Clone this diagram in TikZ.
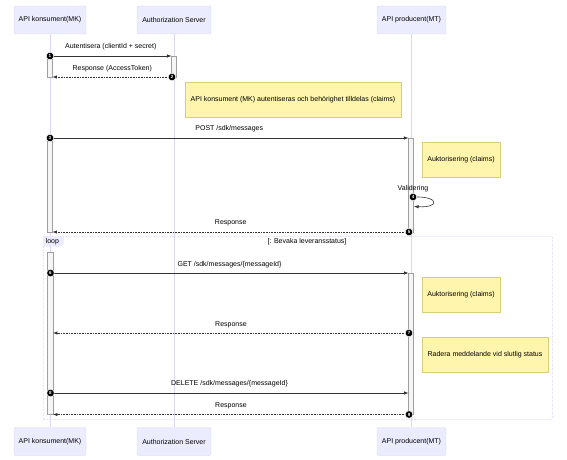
\documentclass[tikz,border=0pt]{standalone}
\usepackage{fontspec}
\setmainfont{Liberation Sans}
\usepackage{xcolor}
\usetikzlibrary{arrows}
\usetikzlibrary{calc}
\definecolor{actorfill}{HTML}{ECECFF}
\definecolor{actorline}{HTML}{DCD6F7}
\definecolor{notefill}{HTML}{FFF5AD}
\definecolor{noteline}{HTML}{D6CF7A}
\definecolor{msgline}{HTML}{333333}

\begin{document}
\begin{tikzpicture}[x=1pt, y=-1pt, font=\fontsize{7}{8}\selectfont,
	actor/.style={draw=actorline, fill=actorfill, rounded corners=1.5pt, minimum height=28pt, inner sep=0pt},
	note/.style={draw=noteline, fill=notefill, minimum height=35pt, inner sep=0pt},
	num/.style={circle, fill=black, draw=white, line width=.4pt, inner sep=0pt, minimum size=7.5pt, text=white, font=\fontsize{4.5}{5}\selectfont\bfseries},
	act/.style={draw=gray!75, fill=gray!8, line width=.6pt},
	msg/.style={->, >=latex, color=msgline, line width=.6pt},
	reply/.style={->, >=latex, color=msgline, line width=.5pt, dash pattern=on .8pt off .8pt}]
	\useasboundingbox (0,0) rectangle (567,460);
	% actors
	\node[actor, minimum width=72pt] (MKtop) at (50, 20) {API konsument(MK)};
	\node[actor, minimum width=74pt] (AStop) at (174, 20) {Authorization Server};
	\node[actor, minimum width=69pt] (MTtop) at (411.5, 20) {API producent(MT)};
	\node[actor, minimum width=72pt] (MKbot) at (50, 441.5) {API konsument(MK)};
	\node[actor, minimum width=74pt] (ASbot) at (174, 441.5) {Authorization Server};
	\node[actor, minimum width=69pt] (MTbot) at (411.5, 441.5) {API producent(MT)};
	\draw[actorline, line width=.8pt] (MKtop) -- (MKbot);
	\draw[actorline, line width=.8pt] (AStop) -- (ASbot);
	\draw[actorline, line width=.8pt] (MTtop) -- (MTbot);
	% loop frame
	\draw[actorline!70, line width=.5pt, dash pattern=on .8pt off .8pt] (43, 236) rectangle (552, 419);
	\fill[actorfill] (43, 236) -- (64, 236) -- (64, 243) -- (61, 246.5) -- (43, 246.5) -- cycle;
	\node[anchor=west, inner sep=0pt] (looplbl) at (45.5, 241.5) {loop};
	\node (loopcond) at (307, 242) {[: Bevaka leveransstatus]};
	% activations
	\draw[act] (47, 56) rectangle (52.5, 77);
	\draw[act] (171.5, 56) rectangle (176.5, 77);
	\draw[act] (47, 138) rectangle (52.5, 232);
	\draw[act] (408.5, 138) rectangle (413.5, 232);
	\draw[act] (47.5, 252) rectangle (53, 414);
	\draw[act] (408.5, 273) rectangle (413.5, 414);
	% notes
	\node[note, minimum width=216pt] (noteAuth) at (293, 99.5) {API konsument (MK) autentiseras och behörighet tilldelas (claims)};
	\node[note, minimum width=78pt] (noteClaimsA) at (461, 159.5) {Auktorisering (claims)};
	\node[note, minimum width=78pt] (noteClaimsB) at (461, 294.5) {Auktorisering (claims)};
	\node[note, minimum width=126pt] (noteDelete) at (485, 354.5) {Radera meddelande vid slutlig status};
	% message points
	\coordinate (m1s) at (50, 56);    \coordinate (m1e) at (171.5, 56);
	\coordinate (m2s) at (172, 77);   \coordinate (m2e) at (52.5, 77);
	\coordinate (m3s) at (50, 138);   \coordinate (m3e) at (408.5, 138);
	\coordinate (m4s) at (413, 197);  \coordinate (m4e) at (414, 206.5);
	\coordinate (m5s) at (409, 232);  \coordinate (m5e) at (52.5, 232);
	\coordinate (m6s) at (50.5, 273); \coordinate (m6e) at (408.5, 273);
	\coordinate (m7s) at (409, 333);  \coordinate (m7e) at (53, 333);
	\coordinate (m8s) at (50.5, 393); \coordinate (m8e) at (408.5, 393);
	\coordinate (m9s) at (409, 414.5);\coordinate (m9e) at (53, 414.5);
	% messages
	\draw[msg] (m1s) -- (m1e);
	\draw[reply] (m2s) -- (m2e);
	\draw[msg] (m3s) -- (m3e);
	\draw[msg] (m4s) .. controls (440, 196) and (440, 208) .. (m4e);
	\draw[reply] (m5s) -- (m5e);
	\draw[msg] (m6s) -- (m6e);
	\draw[reply] (m7s) -- (m7e);
	\draw[msg] (m8s) -- (m8e);
	\draw[reply] (m9s) -- (m9e);
	\node (m1lbl) at ($(m1s)!.5!(m1e)+(0,-9)$) {Autentisera (clientId + secret)};
	\node (m2lbl) at ($(m2s)!.5!(m2e)+(0,-8)$) {Response (AccessToken)};
	\node (m3lbl) at ($(m3s)!.5!(m3e)+(0,-9)$) {POST /sdk/messages};
	\node (m4lbl) at ($(m4s)+(0,-8.5)$) {Validering};
	\node (m5lbl) at ($(m5s)!.5!(m5e)+(0,-9)$) {Response};
	\node (m6lbl) at ($(m6s)!.5!(m6e)+(0,-8.5)$) {GET /sdk/messages/\{messageId\}};
	\node (m7lbl) at ($(m7s)!.5!(m7e)+(0,-8.5)$) {Response};
	\node (m8lbl) at ($(m8s)!.5!(m8e)+(0,-9)$) {DELETE /sdk/messages/\{messageId\}};
	\node (m9lbl) at ($(m9s)!.5!(m9e)+(0,-8.5)$) {Response};
	% sequence numbers
	\node[num] (n1) at (m1s) {1};
	\node[num] (n2) at (m2s) {2};
	\node[num] (n3) at (m3s) {3};
	\node[num] (n4) at (m4s) {4};
	\node[num] (n5) at (m5s) {5};
	\node[num] (n6) at (m6s) {6};
	\node[num] (n7) at (m7s) {7};
	\node[num] (n8) at (m8s) {8};
	\node[num] (n9) at (m9s) {9};
\end{tikzpicture}
\end{document}
